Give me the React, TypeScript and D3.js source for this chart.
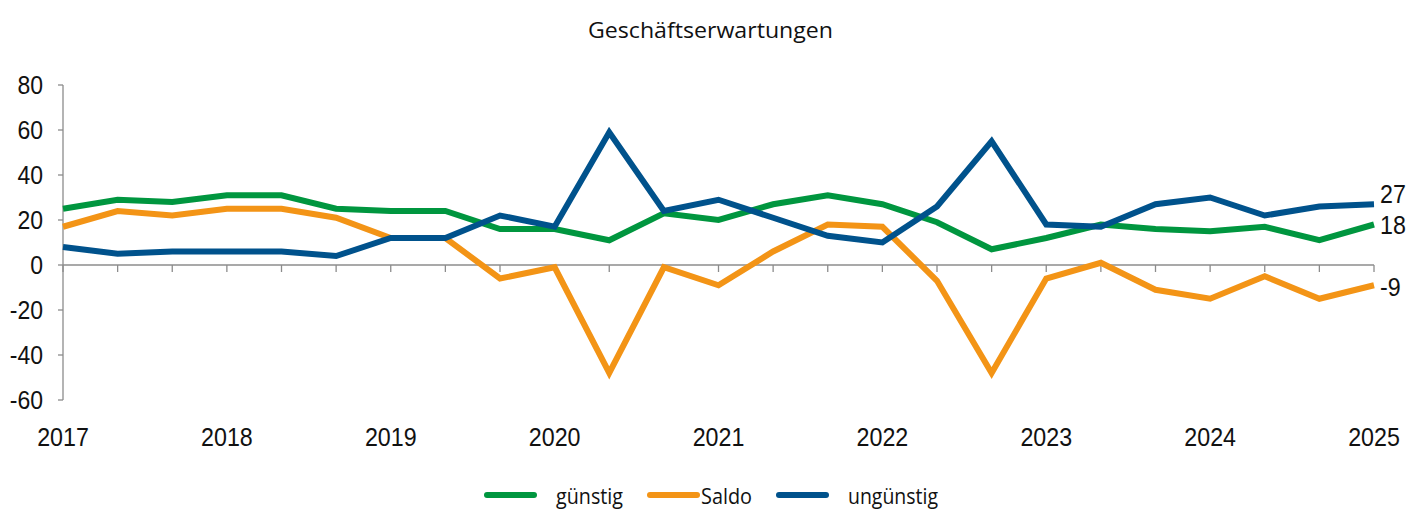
import React from "react";
import * as d3 from "d3";

const years = ["2017", "2018", "2019", "2020", "2021", "2022", "2023", "2024", "2025"];
const guenstig = [25, 29, 28, 31, 31, 25, 24, 24, 16, 16, 11, 23, 20, 27, 31, 27, 19, 7, 12, 18, 16, 15, 17, 11, 18];
const unguenstig = [8, 5, 6, 6, 6, 4, 12, 12, 22, 17, 59, 24, 29, 21, 13, 10, 26, 55, 18, 17, 27, 30, 22, 26, 27];
const saldo = [17, 24, 22, 25, 25, 21, 12, 12, -6, -1, -48, -1, -9, 6, 18, 17, -7, -48, -6, 1, -11, -15, -5, -15, -9];
const yTicks = [80, 60, 40, 20, 0, -20, -40, -60];

const series = [
  { name: "günstig", values: guenstig, color: "#00963F" },
  { name: "Saldo", values: saldo, color: "#F39416" },
  { name: "ungünstig", values: unguenstig, color: "#00528C" },
];

const W = 1424;
const H = 509;
const NUMFONT = "'Liberation Sans', Arial, sans-serif";
const TXTFONT = "'Open Sans', 'Noto Sans', sans-serif";

export default function App() {
  const n = guenstig.length;
  const x = d3.scaleLinear().domain([0, n - 1]).range([63, 1374]);
  const y = d3.scaleLinear().domain([-60, 80]).range([400, 85]);
  const line = d3
    .line<number>()
    .x((_, i) => x(i))
    .y((d) => y(d));
  const axisColor = "#8c8c8c";
  const idx = d3.range(n);

  const legendItems = [
    { s: series[0], x1: 487, x2: 534, tx: 556, tw: 67 },
    { s: series[1], x1: 650, x2: 697, tx: 701, tw: 51 },
    { s: series[2], x1: 779, x2: 826, tx: 848, tw: 90 },
  ];

  const endLabels = [
    { v: unguenstig[n - 1], off: -10 },
    { v: guenstig[n - 1], off: 0 },
    { v: saldo[n - 1], off: 2 },
  ];

  return (
    <svg
      width={W}
      height={H}
      style={{ position: "absolute", left: 0, top: 0, background: "#fff" }}
    >
      <text
        x={588}
        y={38}
        fontFamily={TXTFONT}
        fontSize={22.5}
        textLength={245}
        lengthAdjust="spacingAndGlyphs"
        fill="#111"
      >
        Geschäftserwartungen
      </text>

      {/* y axis */}
      <line x1={63} x2={63} y1={y(80)} y2={y(-60)} stroke={axisColor} strokeWidth={1.3} />
      {yTicks.map((t) => (
        <g key={t}>
          <line x1={58} x2={63} y1={y(t)} y2={y(t)} stroke={axisColor} strokeWidth={1.3} />
          <text
            transform={`translate(43,${y(t)}) scale(0.92,1)`}
            dy="0.36em"
            textAnchor="end"
            fontFamily={NUMFONT}
            fontSize={25}
            fill="#111"
          >
            {t}
          </text>
        </g>
      ))}

      {/* x axis at 0 */}
      <line x1={63} x2={x(n - 1)} y1={y(0)} y2={y(0)} stroke={axisColor} strokeWidth={1.3} />
      {idx.map((i) => (
        <line key={i} x1={x(i)} x2={x(i)} y1={y(0)} y2={y(0) + 7} stroke={axisColor} strokeWidth={1.3} />
      ))}
      {years.map((yr, k) => (
        <text
          key={yr}
          transform={`translate(${x(k * 3)},446) scale(0.93,1)`}
          textAnchor="middle"
          fontFamily={NUMFONT}
          fontSize={25}
          fill="#111"
        >
          {yr}
        </text>
      ))}

      {series.map((s) => (
        <path
          key={s.name}
          d={line(s.values) || ""}
          fill="none"
          stroke={s.color}
          strokeWidth={6}
          strokeLinejoin="miter"
          strokeMiterlimit={10}
        />
      ))}

      {/* end labels */}
      {endLabels.map((l, k) => (
        <text
          key={k}
          transform={`translate(1380,${y(l.v) + l.off}) scale(0.93,1)`}
          dy="0.36em"
          fontFamily={NUMFONT}
          fontSize={25}
          fill="#111"
        >
          {l.v}
        </text>
      ))}

      {/* legend */}
      {legendItems.map((it) => (
        <g key={it.s.name}>
          <line
            x1={it.x1}
            x2={it.x2}
            y1={495}
            y2={495}
            stroke={it.s.color}
            strokeWidth={6}
            strokeLinecap="round"
          />
          <text
            x={it.tx}
            y={504}
            fontFamily={TXTFONT}
            fontSize={21}
            textLength={it.tw}
            lengthAdjust="spacingAndGlyphs"
            fill="#111"
          >
            {it.s.name}
          </text>
        </g>
      ))}
    </svg>
  );
}
